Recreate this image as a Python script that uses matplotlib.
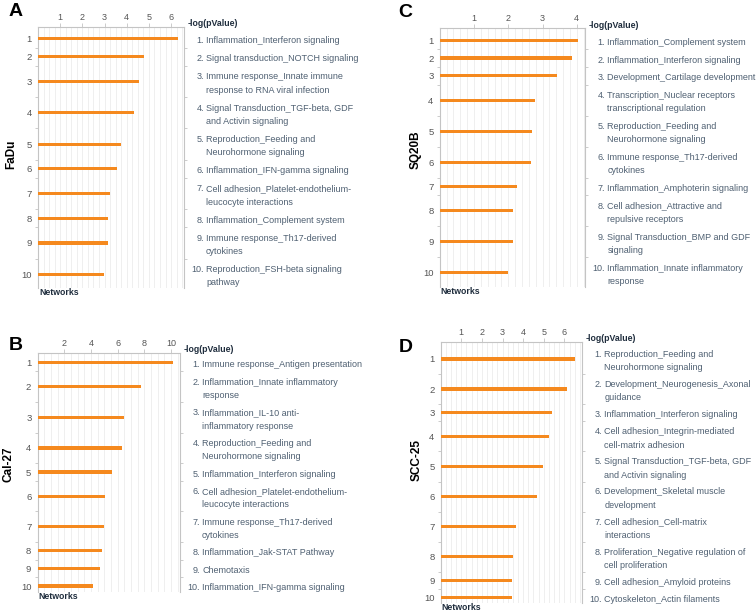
import matplotlib.pyplot as plt
from matplotlib.transforms import blended_transform_factory, offset_copy
import numpy as np

plt.rcParams['font.family'] = ['Liberation Sans', 'DejaVu Sans']

W, H = 756, 615

# ---- data ----
fadu_vals = [6.30, 4.79, 4.53, 4.31, 3.75, 3.54, 3.26, 3.17, 3.14, 2.97]
fadu_labels = [
    "Inflammation_Interferon signaling",
    "Signal transduction_NOTCH signaling",
    "Immune response_Innate immune\nresponse to RNA viral infection",
    "Signal Transduction_TGF-beta, GDF\nand Activin signaling",
    "Reproduction_Feeding and\nNeurohormone signaling",
    "Inflammation_IFN-gamma signaling",
    "Cell adhesion_Platelet-endothelium-\nleucocyte interactions",
    "Inflammation_Complement system",
    "Immune response_Th17-derived\ncytokines",
    "Reproduction_FSH-beta signaling\npathway",
]

cal27_vals = [10.17, 7.77, 6.50, 6.32, 5.57, 5.07, 4.97, 4.80, 4.67, 4.13]
cal27_labels = [
    "Immune response_Antigen presentation",
    "Inflammation_Innate inflammatory\nresponse",
    "Inflammation_IL-10 anti-\ninflammatory response",
    "Reproduction_Feeding and\nNeurohormone signaling",
    "Inflammation_Interferon signaling",
    "Cell adhesion_Platelet-endothelium-\nleucocyte interactions",
    "Immune response_Th17-derived\ncytokines",
    "Inflammation_Jak-STAT Pathway",
    "Chemotaxis",
    "Inflammation_IFN-gamma signaling",
]

sq20b_vals = [4.05, 3.87, 3.41, 2.78, 2.70, 2.65, 2.25, 2.15, 2.13, 1.99]
sq20b_labels = [
    "Inflammation_Complement system",
    "Inflammation_Interferon signaling",
    "Development_Cartilage development",
    "Transcription_Nuclear receptors\ntranscriptional regulation",
    "Reproduction_Feeding and\nNeurohormone signaling",
    "Immune response_Th17-derived\ncytokines",
    "Inflammation_Amphoterin signaling",
    "Cell adhesion_Attractive and\nrepulsive receptors",
    "Signal Transduction_BMP and GDF\nsignaling",
    "Inflammation_Innate inflammatory\nresponse",
]

scc25_vals = [6.52, 6.12, 5.39, 5.26, 4.95, 4.67, 3.67, 3.52, 3.45, 3.44]
scc25_labels = [
    "Reproduction_Feeding and\nNeurohormone signaling",
    "Development_Neurogenesis_Axonal\nguidance",
    "Inflammation_Interferon signaling",
    "Cell adhesion_Integrin-mediated\ncell-matrix adhesion",
    "Signal Transduction_TGF-beta, GDF\nand Activin signaling",
    "Development_Skeletal muscle\ndevelopment",
    "Cell adhesion_Cell-matrix\ninteractions",
    "Proliferation_Negative regulation of\ncell proliferation",
    "Cell adhesion_Amyloid proteins",
    "Cytoskeleton_Actin filaments",
]

# layout (pixels): box (left, top, right, bottom), first/last bar px,
# xmax, tick step, grid divisions, letter pos, cell-name pos
panels = [
    dict(letter="A", cell="FaDu", vals=fadu_vals, labels=fadu_labels,
         box=(38, 27, 184, 288), bars=(38.7, 274.3), xmax=6.58, step=1, div=4,
         letter_xy=(16, 12), cell_xy=(11, 154)),
    dict(letter="B", cell="Cal-27", vals=cal27_vals, labels=cal27_labels,
         box=(37.6, 352.7, 180, 591.7), bars=(362.7, 586), xmax=10.67, step=2, div=4,
         letter_xy=(15.5, 346), cell_xy=(8.5, 464)),
    dict(letter="C", cell="SQ20B", vals=sq20b_vals, labels=sq20b_labels,
         box=(439.8, 28.3, 585.3, 286.7), bars=(40.3, 272.7), xmax=4.25, step=1, div=5,
         letter_xy=(405.5, 12.5), cell_xy=(415.5, 150)),
    dict(letter="D", cell="SCC-25", vals=scc25_vals, labels=scc25_labels,
         box=(440.7, 341.7, 582.3, 603.3), bars=(359, 597.7), xmax=6.87, step=1, div=4,
         letter_xy=(405.5, 348), cell_xy=(417, 460)),
]

BAR = '#F5891E'
AXIS = '#c4c4c4'
GRID = '#ececec'
TXT = '#4f6072'
DARK = '#1f2d3d'
LINE_PX = 13.3

fig = plt.figure(figsize=(W / 100, H / 100), dpi=100)

for p in panels:
    l, t, r, b = p['box']
    ax = fig.add_axes([l / W, 1 - b / H, (r - l) / W, (b - t) / H])

    # row heights follow the number of text lines of each label
    nlines = np.array([s.count('\n') + 1 for s in p['labels']])
    rows = np.where(nlines == 1, 1.0, 1.74)
    edges = np.concatenate([[0], np.cumsum(rows)])
    centers = (edges[:-1] + edges[1:]) / 2

    p1, p10 = p['bars']
    k = (p10 - p1) / (centers[-1] - centers[0])
    ytop = centers[0] - (p1 - t) / k
    ybot = centers[0] + (b - p1) / k

    ax.barh(centers, p['vals'], height=3.2 / k, color=BAR, zorder=3)
    ax.set_xlim(0, p['xmax'])
    ax.set_ylim(ybot, ytop)

    step = p['step']
    ax.xaxis.tick_top()
    ax.set_xticks(np.arange(step, p['xmax'], step))
    ax.set_xticks(np.arange(step / p['div'], p['xmax'], step / p['div']), minor=True)
    ax.grid(which='both', axis='x', color=GRID, lw=0.6, zorder=0)
    ax.tick_params(axis='x', which='major', length=3, width=0.6, color=AXIS,
                   labelsize=6.5, labelcolor='#555555', pad=0.5)
    ax.tick_params(axis='x', which='minor', length=0)

    ax.set_yticks(centers)
    ax.set_yticklabels([str(i + 1) for i in range(10)])
    ax.set_yticks(edges[1:-1], minor=True)
    ax.yaxis.set_ticks_position('both')
    ax.tick_params(axis='y', which='major', length=0, labelsize=6.8,
                   labelcolor='#555555', pad=4.5, labelright=False)
    ax.tick_params(axis='y', which='minor', length=2.5, width=0.6, color=AXIS)

    for side in ['top', 'left', 'right']:
        ax.spines[side].set_color(AXIS)
        ax.spines[side].set_linewidth(0.8)
    ax.spines['bottom'].set_visible(False)

    # network names on the right of the axis, one text per line
    trans = blended_transform_factory(ax.transAxes, ax.transData)
    xb = 22 / (r - l) + 1
    for i, (lab, n) in enumerate(zip(p['labels'], nlines)):
        for j, line in enumerate(lab.split('\n')):
            down = 1.3 + 3.2 - (n - 1) * LINE_PX / 2 + j * LINE_PX
            tb = offset_copy(trans, fig=fig, x=0, y=-down, units='dots')
            ax.text(xb, centers[i], line, transform=tb, ha='left', va='baseline',
                    fontsize=6.5, color=TXT, clip_on=False)
            if j == 0:
                tn = offset_copy(trans, fig=fig, x=-2, y=-down, units='dots')
                ax.text(xb, centers[i], f"{i + 1}.", transform=tn, ha='right',
                        va='baseline', fontsize=6.5, color=TXT, clip_on=False)

    fig.text((r + 3.5) / W, 1 - (t - 3) / H, "-log(pValue)", ha='left', va='center',
             fontsize=6.3, fontweight='bold', color=DARK)
    fig.text((l + 1) / W, 1 - (b + 4.5) / H, "Networks", ha='left', va='center',
             fontsize=6.3, fontweight='bold', color=DARK)

    lx, ly = p['letter_xy']
    fig.text(lx / W, 1 - ly / H, p['letter'], ha='center', va='center',
             fontsize=14, fontweight='bold', color='black')
    cx, cy = p['cell_xy']
    fig.text(cx / W, 1 - cy / H, p['cell'], ha='center', va='center', rotation=90,
             fontsize=8.5, fontweight='bold', color='black')

fig.savefig('out.png', dpi=100)
